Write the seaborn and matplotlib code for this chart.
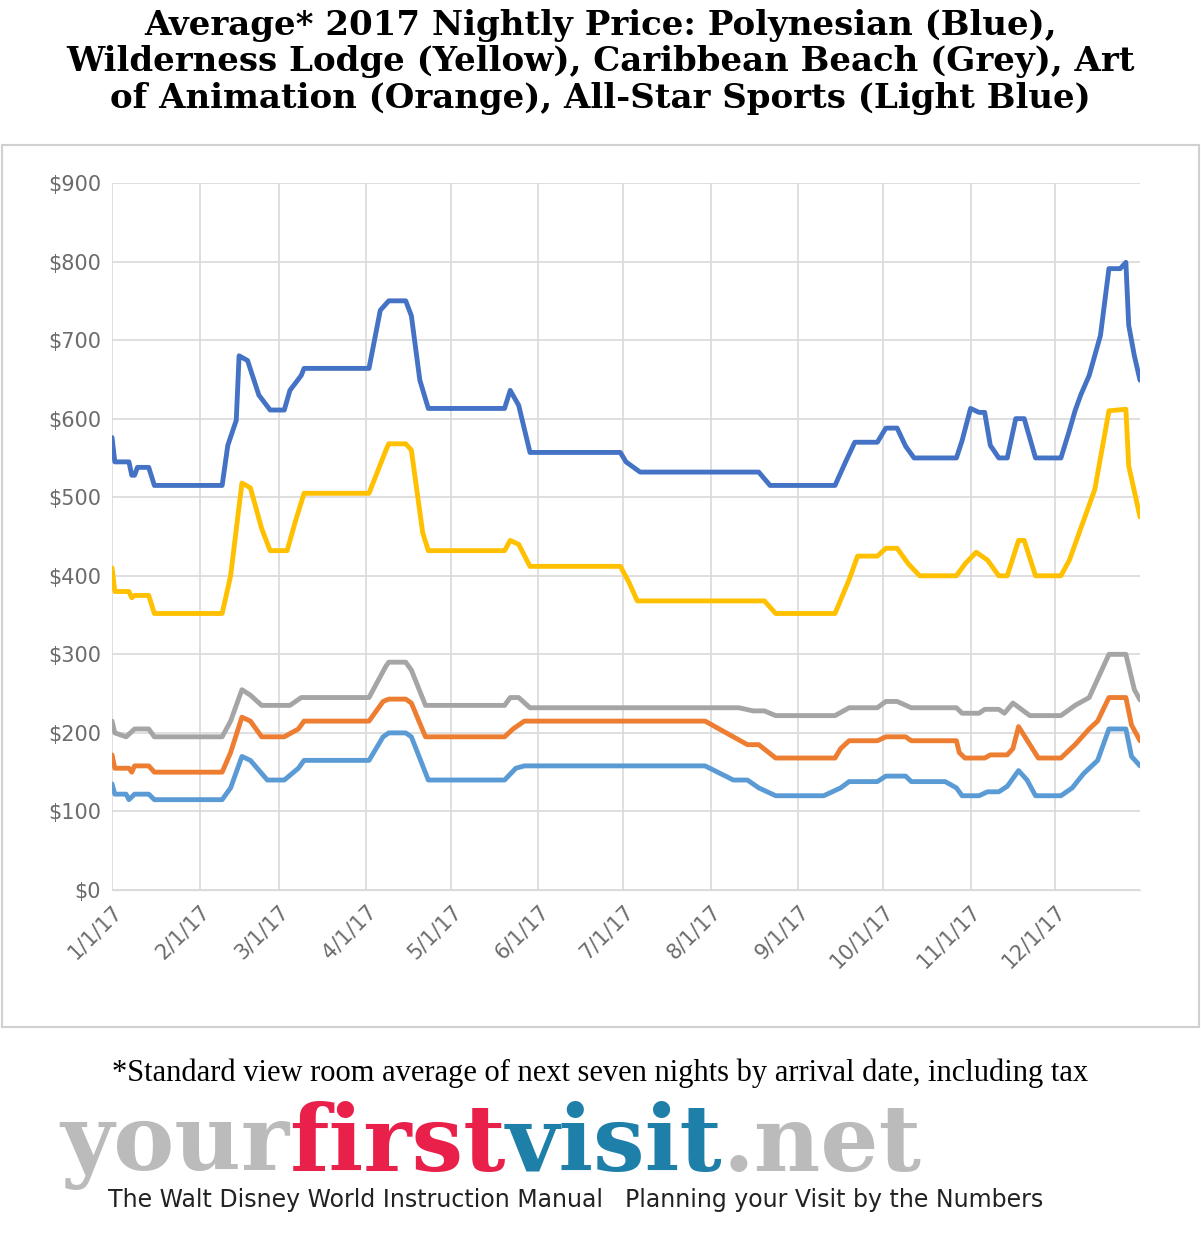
import numpy as np, pandas as pd, matplotlib
matplotlib.use("Agg")
import matplotlib.pyplot as plt, matplotlib.dates as mdates
import seaborn as sns
from matplotlib.patches import Rectangle

poly_days = [0,1,6,7,8,9,13,15,39,41,44,45,48,52,56,61,63,67,68,91,95,98,104,106,109,112,139,141,144,148,180,182,187,229,233,256,260,263,271,274,278,281,284,299,301,304,307,309,311,314,317,320,323,327,336,339,341,343,346,350,353,357,359,360,362,364]
poly_vals = [576,545,545,528,528,538,538,515,515,566,598,680,674,630,611,611,636,655,664,664,738,750,750,731,649,613,613,636,617,557,557,545,532,532,515,515,547,570,570,588,588,565,550,550,572,613,608,608,566,550,550,600,600,550,550,585,610,630,655,706,791,791,799,719,680,649]
wild_days = [0,1,6,7,8,13,15,39,42,46,49,53,56,62,65,68,91,97,98,104,106,110,112,139,141,144,148,180,183,186,231,235,256,261,264,271,274,278,282,286,299,302,306,310,314,317,321,323,327,336,339,345,348,353,359,360,364]
wild_vals = [410,380,380,372,375,375,352,352,400,518,512,460,432,432,470,505,505,560,568,568,560,455,432,432,445,440,412,412,392,368,368,352,352,395,425,425,435,435,415,400,400,415,430,420,400,400,445,445,400,400,420,480,510,610,612,540,475]
cb_days = [0,1,5,8,13,15,39,42,46,49,53,63,67,68,91,97,98,104,106,111,139,141,144,148,222,227,231,235,256,261,271,274,278,283,299,301,307,309,314,316,319,325,336,341,346,353,359,362,364]
cb_vals = [215,200,195,205,205,195,195,215,255,248,235,235,245,245,245,285,290,290,280,235,235,245,245,232,232,228,228,222,222,232,232,240,240,232,232,225,225,230,230,225,238,222,222,235,245,300,300,255,242]
aoa_days = [0,1,6,7,8,13,15,39,42,46,49,53,61,66,68,91,96,98,104,106,111,139,142,146,210,220,225,229,235,256,258,261,271,274,281,283,299,300,302,309,311,317,319,321,325,328,336,341,346,349,353,359,361,364]
aoa_vals = [172,155,155,150,158,158,150,150,175,220,215,195,195,205,215,215,240,243,243,238,195,195,205,215,215,195,185,185,168,168,180,190,190,195,195,190,190,175,168,168,172,172,180,208,185,168,168,185,205,215,245,245,210,190]
asm_days = [0,1,5,6,8,13,15,39,42,46,49,55,61,66,68,91,96,98,104,106,112,139,143,146,210,220,225,229,235,252,258,261,271,274,281,283,295,299,301,307,310,314,317,321,324,327,336,340,344,349,353,359,361,364]
asm_vals = [135,122,122,115,122,122,115,115,130,170,165,140,140,155,165,165,195,200,200,195,140,140,155,158,158,140,140,130,120,120,130,138,138,145,145,138,138,130,120,120,125,125,132,152,140,120,120,130,148,165,205,205,170,158]

names = ["Polynesian","Wilderness Lodge","Caribbean Beach","Art of Animation","All-Star Sports"]
colors = ["#4472C4","#FFC000","#A5A5A5","#ED7D31","#5B9BD5"]
series = [(poly_days,poly_vals),(wild_days,wild_vals),(cb_days,cb_vals),(aoa_days,aoa_vals),(asm_days,asm_vals)]
base = pd.Timestamp("2017-01-01")
df = pd.concat([pd.DataFrame({"date":base+pd.to_timedelta(d,unit="D"),"price":v,"resort":n})
                for (d,v),n in zip(series,names)])

sns.set_style("white")
fig = plt.figure(figsize=(12.01,12.56), dpi=100)
fig.patches.append(Rectangle((2/1201,(1256-1027)/1256),1197/1201,882/1256,transform=fig.transFigure,
                             fill=False,edgecolor="#D0D0D0",lw=1.5))
ax = fig.add_axes([112/1201,(1256-890)/1256,1028/1201,707/1256])
sns.lineplot(data=df,x="date",y="price",hue="resort",palette=colors,hue_order=names,lw=3.5,ax=ax,legend=False)
ax.set_ylim(0,900); ax.set_yticks(range(0,901,100))
ax.set_yticklabels([f"${v}" for v in range(0,901,100)])
ax.set_xlim(base,pd.Timestamp("2017-12-31"))
months = pd.date_range("2017-01-01","2017-12-01",freq="MS")
ax.set_xticks(months)
ax.set_xticklabels([f"{m.month}/1/17" for m in months],rotation=45,ha="right",rotation_mode="anchor")
ax.grid(True,color="#D9D9D9",lw=1.2)
for s in ax.spines.values(): s.set_visible(False)
ax.spines["bottom"].set_visible(True); ax.spines["bottom"].set_color("#D9D9D9")
ax.tick_params(colors="#6B6B6B",labelsize=15,length=0,pad=8)
ax.set_xlabel(""); ax.set_ylabel("")

fig.text(0.5,1-62/1256,"Average* 2017 Nightly Price: Polynesian (Blue),\nWilderness Lodge (Yellow), Caribbean Beach (Grey), Art\nof Animation (Orange), All-Star Sports (Light Blue)",
         ha="center",va="center",family="DejaVu Serif",weight="bold",fontsize=24.5,linespacing=1.12,color="black")
fig.text(0.5,1-1073/1256,"*Standard view room average of next seven nights by arrival date, including tax",
         ha="center",va="center",family="Liberation Serif",fontsize=22,color="black")
parts=[("your","#BBBBBB"),("first","#E8204A"),("visit","#1E7FA8"),(".net","#BBBBBB")]
x=0.05
for t,c in parts:
    tx=fig.text(x,1-1145/1256,t,family="DejaVu Serif",weight="bold",fontsize=66,color=c,va="center")
    fig.canvas.draw()
    bb=tx.get_window_extent(); x+=bb.width/1201
fig.text(0.09,1-1200/1256,"The Walt Disney World Instruction Manual",fontsize=17,va="center",color="#222222")
fig.text(0.52,1-1200/1256,"Planning your Visit by the Numbers",fontsize=17,va="center",color="#222222")
fig.savefig("out.png",dpi=100)
